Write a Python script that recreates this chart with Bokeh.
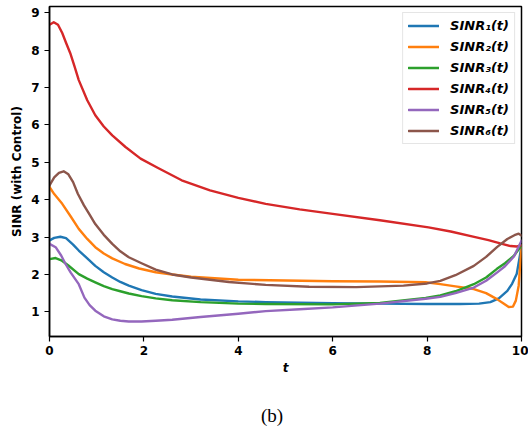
from bokeh.plotting import figure
from bokeh.layouts import column
from bokeh.models import Range1d, Legend, LegendItem, Div, FixedTicker
from bokeh.embed import file_html
from bokeh.resources import INLINE

# ---- data ----
t1 = [0, 0.1, 0.23, 0.35, 0.5, 0.62, 0.8, 0.97, 1.15, 1.33, 1.5, 1.68, 1.95, 2.25, 2.6, 3.2,
      4.0, 4.58, 6.0, 7.0, 8.0, 8.7, 9.1, 9.34, 9.52, 9.7, 9.8, 9.9, 10]
sinr1 = [2.91, 2.98, 3.01, 2.97, 2.8, 2.64, 2.43, 2.23, 2.06, 1.92, 1.8, 1.70, 1.58, 1.48, 1.41, 1.33,
         1.28, 1.26, 1.23, 1.22, 1.21, 1.21, 1.22, 1.26, 1.36, 1.56, 1.75, 2.02, 2.75]

t2 = [0, 0.1, 0.27, 0.45, 0.62, 0.8, 0.97, 1.15, 1.33, 1.6, 1.9, 2.25, 2.6, 3.0, 4.0, 5.0,
      6.0, 7.0, 7.97, 8.28, 8.6, 8.99, 9.25, 9.48, 9.62, 9.73, 9.82, 9.88, 9.94, 9.98, 10]
sinr2 = [4.34, 4.15, 3.89, 3.55, 3.22, 2.95, 2.73, 2.56, 2.43, 2.28, 2.16, 2.06, 2.0, 1.94, 1.86, 1.84,
         1.82, 1.81, 1.79, 1.74, 1.68, 1.61, 1.5, 1.34, 1.22, 1.13, 1.14, 1.3, 1.7, 2.4, 2.7]

t3 = [0, 0.13, 0.25, 0.4, 0.62, 0.8, 0.97, 1.15, 1.33, 1.5, 1.68, 1.95, 2.25, 2.6, 3.2, 4.0,
      4.58, 6.0, 7.0, 7.97, 8.28, 8.6, 8.99, 9.25, 9.48, 9.65, 9.84, 10]
sinr3 = [2.41, 2.44, 2.38, 2.24, 2.01, 1.89, 1.79, 1.69, 1.61, 1.55, 1.49, 1.42, 1.36, 1.31, 1.26, 1.22,
         1.21, 1.20, 1.24, 1.37, 1.44, 1.55, 1.74, 1.92, 2.15, 2.3, 2.5, 2.78]

t4 = [0, 0.09, 0.18, 0.27, 0.35, 0.44, 0.53, 0.62, 0.8, 0.97, 1.15, 1.33, 1.61, 1.93, 2.3, 2.8,
      3.4, 4.0, 4.58, 5.3, 6.0, 7.0, 8.03, 8.5, 8.95, 9.3, 9.55, 9.77, 9.9, 10]
sinr4 = [8.68, 8.75, 8.68, 8.46, 8.2, 7.92, 7.57, 7.2, 6.66, 6.26, 5.96, 5.72, 5.41, 5.1, 4.85, 4.52,
         4.25, 4.05, 3.89, 3.74, 3.62, 3.45, 3.26, 3.15, 3.02, 2.92, 2.83, 2.76, 2.75, 2.78]

t5 = [0, 0.13, 0.25, 0.34, 0.45, 0.62, 0.74, 0.85, 0.97, 1.15, 1.33, 1.5, 1.68, 1.95, 2.25, 2.6,
      3.2, 4.0, 4.58, 5.3, 6.0, 7.0, 7.97, 8.28, 8.6, 8.99, 9.25, 9.48, 9.65, 9.84, 10]
sinr5 = [2.82, 2.73, 2.5, 2.28, 2.05, 1.74, 1.38, 1.18, 1.03, 0.88, 0.80, 0.76, 0.74, 0.74, 0.76, 0.79,
         0.86, 0.95, 1.02, 1.07, 1.12, 1.22, 1.35, 1.40, 1.5, 1.65, 1.83, 2.05, 2.22, 2.48, 2.9]

t6 = [0, 0.1, 0.2, 0.3, 0.4, 0.5, 0.6, 0.73, 0.85, 0.97, 1.15, 1.33, 1.5, 1.68, 1.95, 2.25,
      2.6, 3.0, 3.8, 4.58, 5.5, 6.5, 7.5, 8.0, 8.28, 8.6, 8.99, 9.25, 9.48, 9.7, 9.85, 9.94, 10]
sinr6 = [4.38, 4.6, 4.72, 4.76, 4.68, 4.47, 4.16, 3.85, 3.6, 3.35, 3.06, 2.82, 2.62, 2.46, 2.3, 2.13,
         2.0, 1.92, 1.8, 1.72, 1.67, 1.66, 1.7, 1.76, 1.83, 1.98, 2.23, 2.47, 2.73, 2.95, 3.05, 3.09, 3.04]

labels = ["SINR\u2081(t)", "SINR\u2082(t)", "SINR\u2083(t)",
          "SINR\u2084(t)", "SINR\u2085(t)", "SINR\u2086(t)"]
colors = ["#1f77b4", "#ff7f0e", "#2ca02c", "#d62728", "#9467bd", "#8c564b"]
x_ticks = [0, 2, 4, 6, 8, 10]
y_ticks = [1, 2, 3, 4, 5, 6, 7, 8, 9]
caption = "(b)"

series = [(t1, sinr1), (t2, sinr2), (t3, sinr3), (t4, sinr4), (t5, sinr5), (t6, sinr6)]

FONT = "DejaVu Sans"

p = figure(width=528, height=377,
           x_range=Range1d(0, 10), y_range=Range1d(0.34, 9.17),
           output_backend="svg", toolbar_location=None,
           min_border_left=49, min_border_right=7, min_border_top=6, min_border_bottom=41)

p.xgrid.visible = False
p.ygrid.visible = False
p.outline_line_color = "black"
p.outline_line_width = 1.5
p.background_fill_color = "white"
p.border_fill_color = "white"

p.xaxis.ticker = FixedTicker(ticks=x_ticks, minor_ticks=[])
p.yaxis.ticker = FixedTicker(ticks=y_ticks, minor_ticks=[])

for ax in (p.xaxis[0], p.yaxis[0]):
    ax.axis_line_color = "black"
    ax.axis_line_width = 1.5
    ax.major_tick_line_color = "black"
    ax.major_tick_line_width = 1.2
    ax.major_tick_out = 5
    ax.major_tick_in = 0
    ax.minor_tick_out = 0
    ax.minor_tick_in = 0
    ax.major_label_text_font = FONT
    ax.major_label_text_font_style = "bold"
    ax.major_label_text_font_size = "12px"
    ax.major_label_text_color = "black"
    ax.axis_label_text_font = FONT
    ax.axis_label_text_font_size = "12px"
    ax.axis_label_text_color = "black"

p.xaxis.major_label_standoff = 4
p.yaxis.major_label_standoff = 5
p.xaxis.axis_label = "t"
p.xaxis.axis_label_text_font_style = "bold italic"
p.xaxis.axis_label_standoff = 3
p.yaxis.axis_label = "SINR (with Control)"
p.yaxis.axis_label_text_font_style = "bold"
p.yaxis.axis_label_standoff = 4

items = []
for (tt, vv), lab, col in zip(series, labels, colors):
    r = p.line(tt, vv, line_color=col, line_width=2.4, line_join="round", line_cap="round")
    items.append(LegendItem(label=lab, renderers=[r]))

legend = Legend(items=items, location="top_right", margin=6,
                glyph_width=31, glyph_height=15, label_height=15, spacing=6,
                padding=5, label_standoff=11,
                label_text_font=FONT, label_text_font_style="bold italic",
                label_text_font_size="13px", label_text_color="black",
                border_line_color="#cccccc", border_line_width=1,
                background_fill_color="white", background_fill_alpha=0.85)
p.add_layout(legend)

cap = Div(text=caption, width=400, height=24, margin=(28, 0, 0, 72),
          styles={"text-align": "center", "font-family": "Liberation Serif",
                  "font-size": "19px", "line-height": "22px", "color": "black"})

layout = column(p, cap, spacing=0)

open("out.html", "w").write(file_html(layout, INLINE))
